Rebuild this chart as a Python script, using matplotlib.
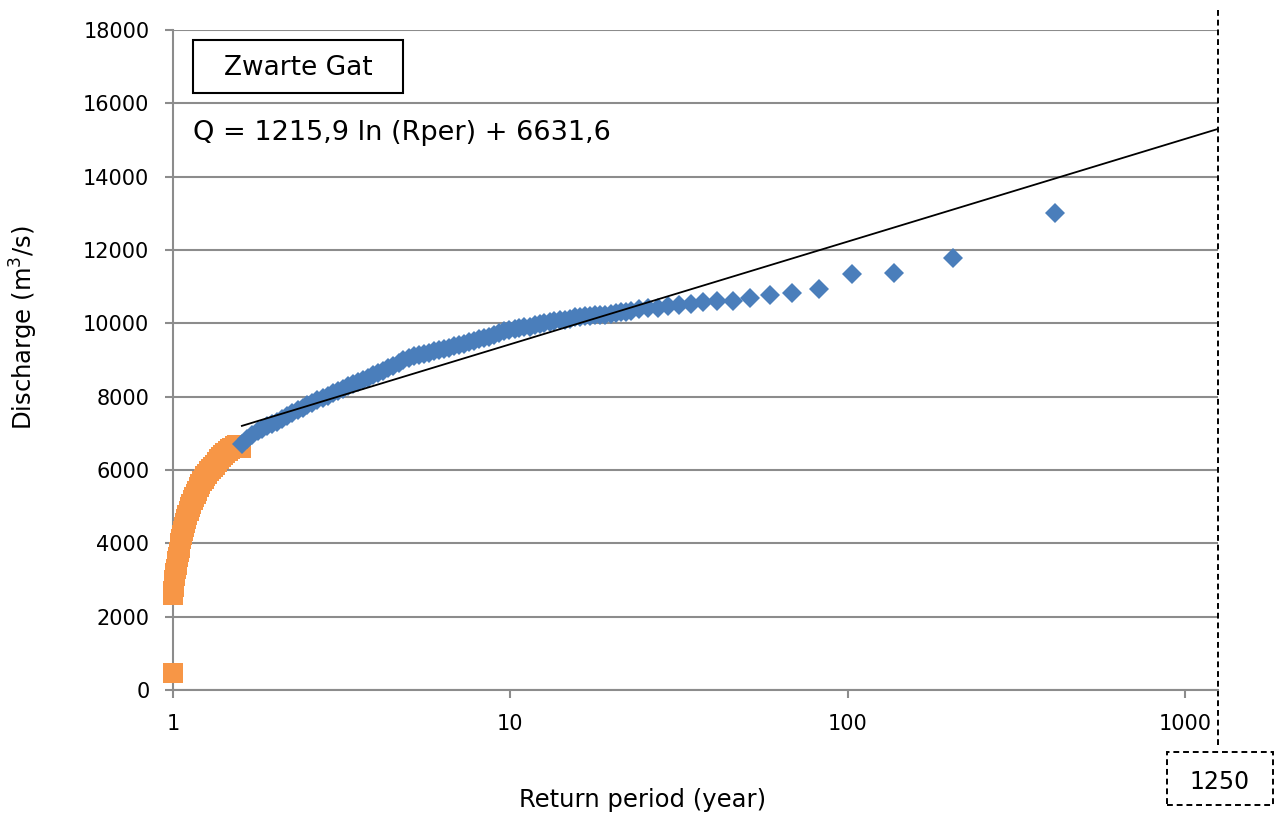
import matplotlib.pyplot as plt
import numpy as np
from matplotlib.patches import Rectangle
from matplotlib.ticker import NullLocator

# return period (year) and discharge (m3/s)
orange_T = [1.000, 1.000, 1.002, 1.004, 1.007, 1.010, 1.013, 1.017, 1.021, 1.025,
            1.030, 1.035, 1.040, 1.046, 1.052, 1.058, 1.064, 1.071, 1.078, 1.086,
            1.094, 1.103, 1.112, 1.122, 1.132, 1.143, 1.154, 1.166, 1.178, 1.191,
            1.204, 1.218, 1.232, 1.247, 1.262, 1.278, 1.295, 1.312, 1.330, 1.349,
            1.368, 1.388, 1.408, 1.430, 1.452, 1.475, 1.500, 1.525, 1.550, 1.590]
orange_Q = [470, 2590, 2700, 2800, 2900, 3000, 3100, 3200, 3300, 3400,
            3520, 3640, 3760, 3880, 4000, 4120, 4230, 4340, 4450, 4560,
            4670, 4780, 4880, 4980, 5080, 5170, 5260, 5350, 5440, 5530,
            5610, 5690, 5760, 5830, 5900, 5970, 6030, 6090, 6150, 6220,
            6290, 6350, 6410, 6460, 6510, 6560, 6610, 6650, 6680, 6600]

blue_T = [1.60, 1.66, 1.72, 1.78, 1.84, 1.90, 1.97, 2.04, 2.11, 2.18,
          2.26, 2.34, 2.42, 2.50, 2.59, 2.68, 2.78, 2.88, 2.98, 3.08,
          3.19, 3.30, 3.42, 3.54, 3.66, 3.79, 3.92, 4.06, 4.20, 4.35,
          4.50, 4.66, 4.82, 5.00, 5.17, 5.35, 5.54, 5.73, 5.93, 6.14,
          6.35, 6.57, 6.80, 7.04, 7.29, 7.54, 7.80, 8.08, 8.36, 8.65,
          8.95, 9.27, 9.59, 9.93, 10.3, 10.6, 11.0, 11.4, 11.8, 12.2,
          12.6, 13.1, 13.5, 14.0, 14.5, 15.0, 15.5, 16.1, 16.6, 17.2,
          17.8, 18.4, 19.1, 19.8, 20.5, 21.2, 22.0, 22.8,
          24.1, 25.6, 27.3, 29.3, 31.5, 34.2, 37.3, 41.0, 45.6, 51.3,
          58.6, 68.3, 82.0, 103, 137, 205, 410]
blue_Q = [6700, 6850, 6960, 7060, 7120, 7190, 7250, 7320, 7390, 7470,
          7560, 7630, 7700, 7760, 7830, 7900, 7960, 8030, 8090, 8150,
          8220, 8280, 8340, 8400, 8460, 8520, 8580, 8650, 8710, 8780,
          8850, 8930, 8990, 9060, 9100, 9130, 9170, 9200, 9240, 9270,
          9300, 9330, 9370, 9410, 9450, 9480, 9520, 9560, 9600, 9630,
          9680, 9730, 9780, 9810, 9840, 9870, 9890, 9910, 9950, 9990,
          10010, 10040, 10060, 10080, 10100, 10130, 10160, 10180, 10200, 10210,
          10220, 10230, 10240, 10250, 10280, 10300, 10320, 10340,
          10400, 10420, 10430, 10470, 10500, 10530, 10580, 10610, 10620, 10690,
          10770, 10830, 10940, 11350, 11380, 11790, 13000]

# logarithmic trendline Q = a ln(T) + b, drawn from first blue point to 1250
trend_a, trend_b = 1215.9, 6631.6
trend_T = [1.6, 1250]

y_ticks = list(range(0, 18001, 2000))
x_ticks = [1, 10, 100, 1000]
x_labels = ['1', '10', '100', '1000']
design_T = 1250

W, H = 1279, 814
plt.rcParams['font.family'] = ['DejaVu Sans']
fig = plt.figure(figsize=(W / 100, H / 100), dpi=100)


def fx(px):
    return px / W


def fy(py):
    return 1 - py / H


ax = fig.add_axes([fx(173), fy(690), fx(1218) - fx(173), fy(30) - fy(690)])
grey = '#8c8c8c'

ax.plot(orange_T, orange_Q, linestyle='none', marker='s', markersize=13.7,
        markeredgewidth=0, color='#f79646', clip_on=False, zorder=3)
ax.plot(blue_T, blue_Q, linestyle='none', marker='D', markersize=9.8,
        markeredgewidth=0, color='#4a7ebb', clip_on=False, zorder=4)
tT = np.array(trend_T)
ax.plot(tT, trend_a * np.log(tT) + trend_b, color='black', lw=1.3, zorder=5)

ax.set_xscale('log')
ax.set_xlim(1, 1250)
ax.set_ylim(0, 18000)
ax.set_xticks(x_ticks)
ax.set_xticklabels(x_labels)
ax.xaxis.set_minor_locator(NullLocator())
ax.set_yticks(y_ticks)
ax.grid(axis='y', color=grey, lw=1.5)
ax.set_axisbelow(True)
for s in ['top', 'right']:
    ax.spines[s].set_visible(False)
for s in ['left', 'bottom']:
    ax.spines[s].set_color(grey)
    ax.spines[s].set_linewidth(1.5)
ax.tick_params(axis='y', length=6, width=1.5, color=grey, labelsize=15, pad=11)
ax.tick_params(axis='x', length=5.5, width=1.5, color=grey, labelsize=15, pad=12)

# dashed line at the design return period, running past the plot area
ax.plot([design_T, design_T], [1.03, -0.083], color='black', lw=1.4,
        linestyle=(0, (3, 2)), transform=ax.get_xaxis_transform(), clip_on=False)
fig.add_artist(Rectangle((fx(1167), fy(805)), fx(1273) - fx(1167), fy(752) - fy(805),
                         fill=False, edgecolor='black', lw=1.4, linestyle=(0, (3, 2))))
fig.text(fx(1220), fy(782), str(design_T), ha='center', va='center', fontsize=17)

fig.add_artist(Rectangle((fx(193), fy(93)), fx(403) - fx(193), fy(40) - fy(93),
                         fill=False, edgecolor='black', lw=1.5))
fig.text(fx(298), fy(68), 'Zwarte Gat', ha='center', va='center', fontsize=19)
fig.text(fx(193), fy(133), 'Q = 1215,9 ln (Rper) + 6631,6', ha='left', va='center',
         fontsize=19.5)

fig.text(fx(643), fy(800), 'Return period (year)', ha='center', va='center', fontsize=17.5)
fig.text(fx(24), fy(328), 'Discharge (m$^3$/s)', ha='center', va='center',
         rotation=90, fontsize=17.5)

fig.savefig('out.png', dpi=100)
